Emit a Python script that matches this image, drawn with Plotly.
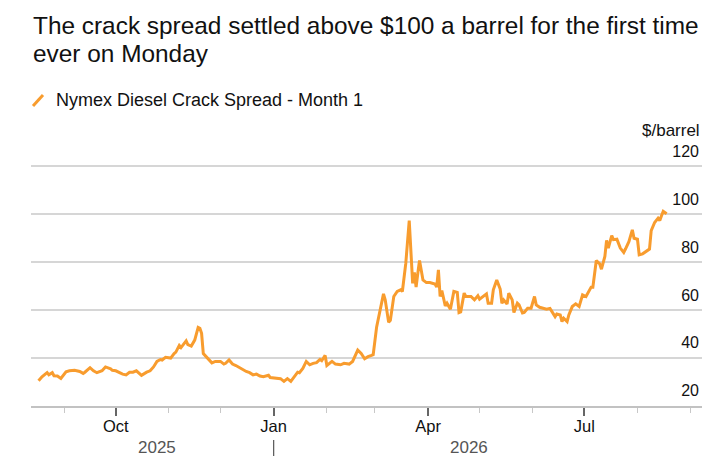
import plotly.graph_objects as go

dates = [
    "2025-08-17", "2025-08-19", "2025-08-22", "2025-08-23", "2025-08-25", "2025-08-26",
    "2025-08-28", "2025-08-30", "2025-09-02", "2025-09-04", "2025-09-07", "2025-09-10",
    "2025-09-12", "2025-09-13", "2025-09-16", "2025-09-18", "2025-09-20", "2025-09-23",
    "2025-09-25", "2025-09-28", "2025-09-29", "2025-10-01", "2025-10-05", "2025-10-07",
    "2025-10-09", "2025-10-11", "2025-10-13", "2025-10-16", "2025-10-19", "2025-10-21",
    "2025-10-23", "2025-10-25", "2025-10-27", "2025-10-28", "2025-10-30", "2025-11-01",
    "2025-11-02", "2025-11-04", "2025-11-05", "2025-11-07", "2025-11-08", "2025-11-09",
    "2025-11-11", "2025-11-12", "2025-11-14", "2025-11-16", "2025-11-18", "2025-11-19",
    "2025-11-20", "2025-11-21", "2025-11-24", "2025-11-26", "2025-11-28", "2025-11-30",
    "2025-12-01", "2025-12-03", "2025-12-04", "2025-12-06", "2025-12-08", "2025-12-10",
    "2025-12-12", "2025-12-14", "2025-12-16", "2025-12-18", "2025-12-20", "2025-12-22",
    "2025-12-24", "2025-12-26", "2025-12-29", "2025-12-30", "2026-01-02", "2026-01-05",
    "2026-01-07", "2026-01-09", "2026-01-11", "2026-01-13", "2026-01-15", "2026-01-16",
    "2026-01-18", "2026-01-20", "2026-01-22", "2026-01-24", "2026-01-26", "2026-01-28",
    "2026-01-29", "2026-01-31", "2026-02-01", "2026-02-04", "2026-02-06", "2026-02-09",
    "2026-02-11", "2026-02-14", "2026-02-16", "2026-02-19", "2026-02-21", "2026-02-23",
    "2026-02-25", "2026-02-27", "2026-02-28", "2026-03-02", "2026-03-05", "2026-03-06",
    "2026-03-07", "2026-03-09", "2026-03-10", "2026-03-12", "2026-03-14", "2026-03-16",
    "2026-03-17", "2026-03-18", "2026-03-19", "2026-03-21", "2026-03-23", "2026-03-24",
    "2026-03-25", "2026-03-26", "2026-03-27", "2026-03-29", "2026-03-31", "2026-04-02",
    "2026-04-05", "2026-04-06", "2026-04-07", "2026-04-08", "2026-04-09", "2026-04-11",
    "2026-04-12", "2026-04-14", "2026-04-15", "2026-04-16", "2026-04-18", "2026-04-19",
    "2026-04-20", "2026-04-22", "2026-04-23", "2026-04-26", "2026-04-28", "2026-04-30",
    "2026-05-01", "2026-05-03", "2026-05-05", "2026-05-06", "2026-05-08", "2026-05-09",
    "2026-05-11", "2026-05-13", "2026-05-14", "2026-05-15", "2026-05-17", "2026-05-18",
    "2026-05-20", "2026-05-21", "2026-05-23", "2026-05-24", "2026-05-26", "2026-05-27",
    "2026-05-29", "2026-05-31", "2026-06-02", "2026-06-03", "2026-06-05", "2026-06-07",
    "2026-06-09", "2026-06-11", "2026-06-12", "2026-06-14", "2026-06-15", "2026-06-17",
    "2026-06-18", "2026-06-19", "2026-06-21", "2026-06-22", "2026-06-24", "2026-06-26",
    "2026-06-28", "2026-06-29", "2026-06-30", "2026-07-02", "2026-07-05", "2026-07-06",
    "2026-07-08", "2026-07-10", "2026-07-11", "2026-07-13", "2026-07-14", "2026-07-15",
    "2026-07-17", "2026-07-18", "2026-07-20", "2026-07-22", "2026-07-24", "2026-07-25",
    "2026-07-27", "2026-07-29", "2026-07-30", "2026-08-01", "2026-08-02", "2026-08-04",
    "2026-08-06", "2026-08-08", "2026-08-09", "2026-08-11", "2026-08-13", "2026-08-14",
    "2026-08-15", "2026-08-16", "2026-08-18",
]

crack_spread = [
    30.5, 32.2, 33.9, 33.0, 33.9, 32.6,
    32.5, 31.5, 34.3, 34.7, 34.9, 34.4,
    33.6, 34.1, 36.0, 34.7, 33.9, 34.7,
    36.3, 35.5, 34.9, 34.7, 33.3, 33.0,
    34.1, 34.1, 34.7, 32.8, 34.1, 34.7,
    36.3, 38.6, 39.4, 39.2, 40.3, 40.0,
    40.0, 41.9, 42.5, 45.3, 44.4, 45.3,
    47.2, 45.6, 45.0, 47.5, 52.8, 52.4,
    50.3, 41.9, 39.4, 38.0, 38.6, 38.6,
    38.6, 37.5, 37.8, 39.2, 37.5, 36.9,
    36.1, 35.0, 34.4, 33.9, 33.0, 33.3,
    32.5, 32.2, 32.8, 31.9, 31.7, 31.4,
    30.3, 31.4, 30.3, 32.2, 34.1, 33.9,
    35.7, 38.6, 37.2, 37.8, 38.1, 39.4,
    38.9, 41.1, 36.9, 38.6, 37.5, 37.2,
    37.8, 37.5, 38.6, 43.3, 41.9, 39.7,
    40.6, 41.1, 41.4, 53.0, 64.5, 66.8,
    64.3, 54.9, 55.7, 65.7, 67.8, 68.5,
    67.8, 74.0, 79.6, 97.4, 71.2, 75.7,
    69.6, 75.4, 80.7, 72.6, 71.5, 71.5,
    70.9, 69.6, 76.8, 65.7, 68.2, 61.8,
    62.9, 60.4, 64.3, 67.8, 67.4, 59.0,
    59.3, 67.1, 65.7, 65.7, 64.3, 66.0,
    64.6, 65.7, 66.8, 62.9, 62.9, 68.5,
    72.6, 68.8, 62.9, 64.3, 62.6, 67.1,
    64.3, 59.0, 62.9, 62.2, 58.8, 59.0,
    60.8, 60.8, 65.7, 62.2, 61.2, 60.8,
    60.4, 60.7, 59.4, 57.3, 58.4, 58.0,
    55.2, 56.6, 55.2, 58.0, 61.5, 62.6,
    61.5, 64.3, 66.4, 65.7, 69.6, 69.6,
    80.7, 79.3, 77.1, 82.4, 89.1, 85.9,
    91.1, 89.4, 89.6, 85.9, 84.1, 85.5,
    88.6, 93.5, 90.0, 89.6, 83.1, 83.5,
    84.5, 85.5, 93.2, 96.6, 98.4, 97.4,
    99.4, 101.2, 100.2,
]

x_tick_vals = ["2025-10-01", "2026-01-01", "2026-04-01", "2026-07-01"]
x_tick_text = ["Oct", "Jan", "Apr", "Jul"]
y_tick_vals = [20, 40, 60, 80, 100, 120]
year_labels = ["2025", "2026"]
year_label_dates = ["2025-10-25", "2026-04-25"]

title_lines = ["The crack spread settled above $100 a barrel for the first time",
               "ever on Monday"]
series_name = "Nymex Diesel Crack Spread - Month 1"
unit_label = "$/barrel"

LINE_COLOR = "#F89C2E"
FONT = "Liberation Sans, Arial, sans-serif"

W, H = 724, 471
L, R, T, B = 31, 702, 152, 406


def px_x(px):
    return (px - L) / (R - L)


def px_y(py):
    return (B - py) / (B - T)


fig = go.Figure()
fig.add_trace(go.Scatter(
    x=dates, y=crack_spread, mode="lines", name=series_name,
    line=dict(color=LINE_COLOR, width=3), showlegend=False,
))

fig.update_layout(
    width=W, height=H,
    margin=dict(l=L, r=W - R, t=T, b=H - B, pad=0),
    paper_bgcolor="white", plot_bgcolor="white",
    font=dict(family=FONT, color="#111"),
    xaxis=dict(
        type="date", range=["2025-08-12 14:24", "2026-09-07 14:24"],
        tickmode="array", tickvals=x_tick_vals, ticktext=x_tick_text,
        ticks="outside", ticklen=8, tickwidth=1.5, tickcolor="#666",
        tickfont=dict(size=16.5, color="#111"),
        ticklabelstandoff=-4,
        showline=True, linecolor="#c2c2c2", linewidth=1.5,
        showgrid=False, zeroline=False,
        minor=dict(ticks="outside", dtick="M1", tick0="2025-01-01",
                   ticklen=5, tickwidth=1.2, tickcolor="#c8c8c8", showgrid=False),
    ),
    yaxis=dict(
        range=[20, 126], side="right",
        tickmode="array", tickvals=y_tick_vals,
        ticklabelposition="inside top", ticklabeloverflow="allow",
        ticklabelshift=-4,
        tickfont=dict(size=16, color="#111"),
        showgrid=True, gridcolor="#d6d6d6", gridwidth=1.5,
        zeroline=False, showline=False, ticks="",
    ),
)

annotations = [
    dict(text=title_lines[0], x=px_x(31), y=px_y(25), xref="paper", yref="paper",
         xanchor="left", yanchor="middle", showarrow=False,
         font=dict(size=24.4, color="#111")),
    dict(text=title_lines[1], x=px_x(31), y=px_y(53), xref="paper", yref="paper",
         xanchor="left", yanchor="middle", showarrow=False,
         font=dict(size=24.4, color="#111")),
    dict(text=unit_label, x=1, y=px_y(131), xref="paper", yref="paper",
         xanchor="right", yanchor="middle", showarrow=False,
         font=dict(size=17, color="#111")),
    dict(text=series_name, x=px_x(54), y=px_y(100), xref="paper", yref="paper",
         xanchor="left", yanchor="middle", showarrow=False,
         font=dict(size=18, color="#111")),
]
for lbl, d in zip(year_labels, year_label_dates):
    annotations.append(dict(text=lbl, x=d, y=px_y(447), xref="x", yref="paper",
                            xanchor="center", yanchor="middle", showarrow=False,
                            font=dict(size=17, color="#555")))
fig.update_layout(annotations=annotations)

fig.add_shape(type="line", xref="paper", yref="paper",
              x0=px_x(33), y0=px_y(106), x1=px_x(43), y1=px_y(95),
              line=dict(color=LINE_COLOR, width=3))
fig.add_shape(type="line", xref="x", yref="paper",
              x0="2026-01-01", x1="2026-01-01", y0=px_y(440), y1=px_y(456),
              line=dict(color="#555", width=1.2))

fig.write_html("out.html", config={"displayModeBar": False},
               post_script="document.body.style.margin='0';")
